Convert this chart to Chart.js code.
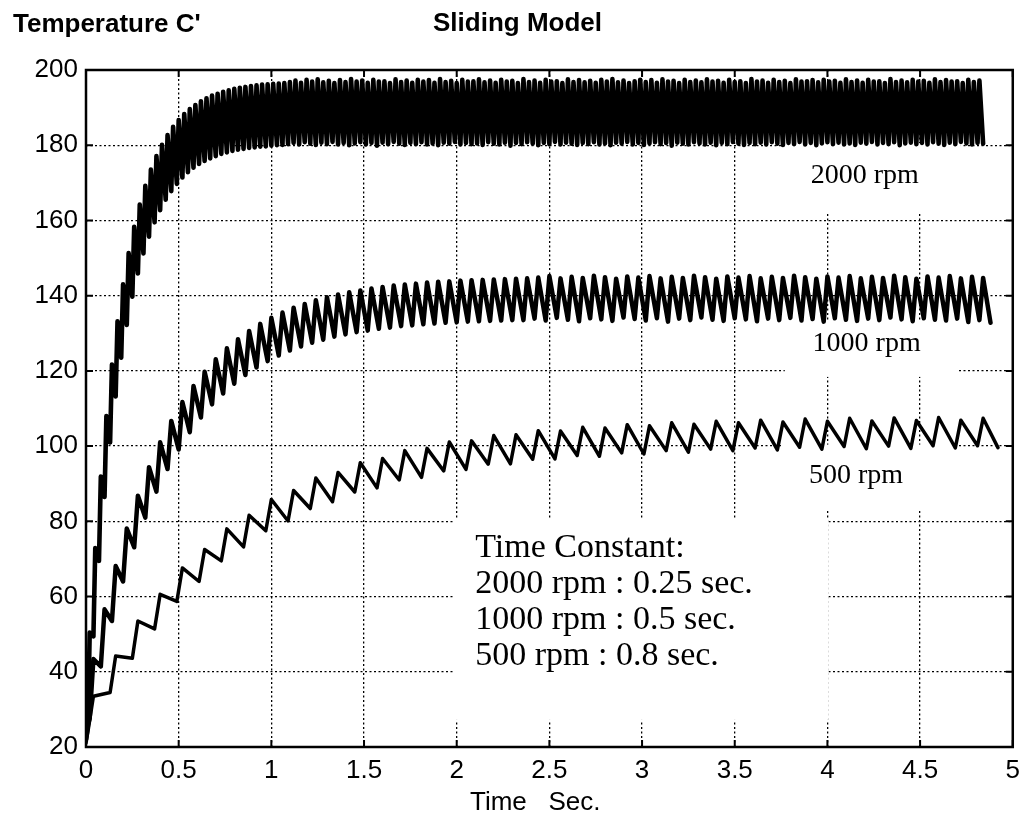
<!DOCTYPE html>
<html>
<head>
<meta charset="utf-8">
<script src="https://cdn.jsdelivr.net/npm/chart.js@4/dist/chart.umd.min.js"></script>
<style>
  body { margin: 0; background: #fff; }
</style>
</head>
<body>
<canvas id="myChart" width="1028" height="823"></canvas>
<script>
// tick values
const xTicks = [0, 0.5, 1, 1.5, 2, 2.5, 3, 3.5, 4, 4.5, 5];
const yTicks = [20, 40, 60, 80, 100, 120, 140, 160, 180, 200];

// 2000 rpm: time (s) and temperature, read tooth by tooth (trough, peak)
const t2000 = [0,
  .01,.02,.04,.05,.07,.08,.10,.11,.13,.14,.16,.17,.19,.20,.22,.23,.25,.26,.28,.29,
  .31,.32,.34,.35,.37,.38,.40,.41,.43,.44,.46,.47,.49,.50,.52,.53,.55,.56,.58,.59,
  .61,.62,.64,.65,.67,.68,.70,.71,.73,.74,.76,.77,.79,.80,.82,.83,.85,.86,.88,.89,
  .91,.92,.94,.95,.97,.98,1.00,1.01,1.03,1.04,1.06,1.07,1.09,1.10,1.12,1.13,1.15,1.16,1.18,1.19,
  1.21,1.22,1.24,1.25,1.27,1.28,1.30,1.31,1.33,1.34,1.36,1.37,1.39,1.40,1.42,1.43,1.45,1.46,1.48,1.49,
  1.51,1.52,1.54,1.55,1.57,1.58,1.60,1.61,1.63,1.64,1.66,1.67,1.69,1.70,1.72,1.73,1.75,1.76,1.78,1.79,
  1.81,1.82,1.84,1.85,1.87,1.88,1.90,1.91,1.93,1.94,1.96,1.97,1.99,2.00,2.02,2.03,2.05,2.06,2.08,2.09,
  2.11,2.12,2.14,2.15,2.17,2.18,2.20,2.21,2.23,2.24,2.26,2.27,2.29,2.30,2.32,2.33,2.35,2.36,2.38,2.39,
  2.41,2.42,2.44,2.45,2.47,2.48,2.50,2.51,2.53,2.54,2.56,2.57,2.59,2.60,2.62,2.63,2.65,2.66,2.68,2.69,
  2.71,2.72,2.74,2.75,2.77,2.78,2.80,2.81,2.83,2.84,2.86,2.87,2.89,2.90,2.92,2.93,2.95,2.96,2.98,2.99,
  3.01,3.02,3.04,3.05,3.07,3.08,3.10,3.11,3.13,3.14,3.16,3.17,3.19,3.20,3.22,3.23,3.25,3.26,3.28,3.29,
  3.31,3.32,3.34,3.35,3.37,3.38,3.40,3.41,3.43,3.44,3.46,3.47,3.49,3.50,3.52,3.53,3.55,3.56,3.58,3.59,
  3.61,3.62,3.64,3.65,3.67,3.68,3.70,3.71,3.73,3.74,3.76,3.77,3.79,3.80,3.82,3.83,3.85,3.86,3.88,3.89,
  3.91,3.92,3.94,3.95,3.97,3.98,4.00,4.01,4.03,4.04,4.06,4.07,4.09,4.10,4.12,4.13,4.15,4.16,4.18,4.19,
  4.21,4.22,4.24,4.25,4.27,4.28,4.30,4.31,4.33,4.34,4.36,4.37,4.39,4.40,4.42,4.43,4.45,4.46,4.48,4.49,
  4.51,4.52,4.54,4.55,4.57,4.58,4.60,4.61,4.63,4.64,4.66,4.67,4.69,4.70,4.72,4.73,4.75,4.76,4.78,4.79,
  4.81,4.82,4.84];
const v2000 = [22,
  25.6,50.4,49.4,72.9,69.5,91.9,86.5,108.0,101.0,121.7,113.2,133.2,123.5,143.0,132.2,151.3,139.7,158.3,145.9,164.2,
  151.2,169.2,155.7,173.5,159.5,177.1,162.7,180.1,165.5,182.7,167.8,184.9,169.7,186.7,171.4,188.3,172.8,189.6,174.0,190.7,
  175.0,191.7,175.8,192.5,176.5,193.2,177.1,193.7,177.7,194.2,178.1,194.6,178.5,195.0,178.8,195.3,179.0,195.5,179.3,195.7,
  179.4,195.9,179.6,196.1,179.7,196.2,179.9,196.3,180.0,196.4,180.1,196.5,180.3,196.8,180.6,197.2,180.2,196.6,180.8,197.4,
  180.4,196.9,180.1,197.5,180.7,196.7,180.3,197.1,180.9,196.5,180.2,197.3,180.6,196.8,180.0,197.6,180.5,196.9,180.8,197.2,
  180.2,196.6,180.6,197.4,179.9,196.9,180.7,197.0,180.3,196.5,180.9,197.5,180.4,196.8,180.1,197.2,180.6,196.6,180.3,197.4,
  180.8,196.9,180.2,197.3,180.5,196.6,180.0,197.6,180.7,196.8,180.4,197.1,180.9,196.5,180.2,197.4,180.6,196.9,180.3,197.0,
  180.5,197.5,180.1,196.7,180.8,197.2,180.4,196.6,180.2,197.4,180.7,196.9,179.9,197.1,180.6,196.5,180.3,197.6,180.8,196.8,
  180.4,197.2,180.0,196.6,180.6,197.4,180.3,196.9,180.9,197.0,180.2,196.5,180.7,197.5,180.4,196.8,180.1,197.3,180.6,196.7,
  180.3,197.1,180.8,196.6,180.2,197.4,180.5,196.9,180.0,197.6,180.7,196.7,180.4,197.2,180.9,196.5,180.2,197.0,180.6,197.4,
  180.1,196.8,180.5,197.3,180.8,196.6,180.3,197.5,180.6,196.9,179.9,197.1,180.7,196.5,180.4,197.4,180.2,196.8,180.8,197.2,
  180.5,196.7,180.2,197.5,180.7,196.9,180.0,197.1,180.6,196.6,180.3,197.4,180.9,196.8,180.4,197.0,180.1,196.5,180.6,197.6,
  180.3,196.9,180.7,197.2,180.2,196.6,180.8,197.4,180.4,196.8,180.1,197.1,180.6,196.5,180.3,197.5,180.9,196.9,180.2,197.0,
  180.6,197.3,180.0,196.7,180.5,197.4,180.8,196.9,180.3,197.1,180.7,196.6,180.2,197.5,180.5,196.8,180.1,197.2,180.7,196.6,
  180.4,197.4,180.9,196.9,180.2,197.0,180.6,196.5,180.3,197.6,180.8,196.8,180.0,197.2,180.5,196.7,180.7,197.4,180.3,196.9,
  180.6,197.1,180.2,196.6,180.8,197.5,180.4,196.8,180.1,197.3,180.7,196.9,180.3,197.0,180.9,196.5,180.5,197.4,180.2,196.8,
  180.6,197.2,180.4];

// 1000 rpm
const t1000 = [0,
  .02,.04,.08,.10,.14,.16,.20,.22,.26,.28,.32,.34,.38,.40,.44,.46,.50,.52,.56,.58,
  .62,.64,.68,.70,.74,.76,.80,.82,.86,.88,.92,.94,.98,1.00,1.04,1.06,1.10,1.12,1.16,1.18,
  1.22,1.24,1.28,1.30,1.34,1.36,1.40,1.42,1.46,1.48,1.52,1.54,1.58,1.60,1.64,1.66,1.70,1.72,1.76,1.78,
  1.82,1.84,1.88,1.90,1.94,1.96,2.00,2.02,2.06,2.08,2.12,2.14,2.18,2.20,2.24,2.26,2.30,2.32,2.36,2.38,
  2.42,2.44,2.48,2.50,2.54,2.56,2.60,2.62,2.66,2.68,2.72,2.74,2.78,2.80,2.84,2.86,2.90,2.92,2.96,2.98,
  3.02,3.04,3.08,3.10,3.14,3.16,3.20,3.22,3.26,3.28,3.32,3.34,3.38,3.40,3.44,3.46,3.50,3.52,3.56,3.58,
  3.62,3.64,3.68,3.70,3.74,3.76,3.80,3.82,3.86,3.88,3.92,3.94,3.98,4.00,4.04,4.06,4.10,4.12,4.16,4.18,
  4.22,4.24,4.28,4.30,4.34,4.36,4.40,4.42,4.46,4.48,4.52,4.54,4.58,4.60,4.64,4.66,4.70,4.72,4.76,4.78,
  4.82,4.84,4.88];
const v1000 = [24,
  27.6,43.4,41.4,56.6,53.5,68.1,64.0,78.1,73.1,86.8,81.0,94.4,87.9,101.0,93.9,106.7,99.1,111.7,103.7,116.0,
  107.6,119.8,111.1,123.1,114.0,126.0,116.6,128.4,118.9,130.6,120.9,132.5,122.6,134.1,124.1,135.5,125.4,136.8,126.5,137.8,
  127.5,138.8,128.3,139.6,129.1,140.3,129.7,140.9,130.3,141.4,130.7,141.9,131.2,142.3,131.5,142.7,131.9,143.0,132.1,143.2,
  132.4,143.5,132.6,143.7,132.8,143.8,132.9,144.0,133.1,144.1,133.2,144.2,133.3,144.3,133.4,144.4,133.5,144.5,133.5,144.6,
  133.9,144.8,133.4,145.2,134.1,144.6,133.6,145.0,133.2,144.7,134.0,145.3,133.7,144.9,133.3,144.5,134.2,145.1,133.8,144.8,
  133.4,145.2,134.0,144.6,133.1,145.0,133.9,144.7,133.5,145.3,134.2,144.9,133.6,144.5,133.3,145.1,134.0,144.8,133.7,145.2,
  133.2,144.6,133.9,145.0,133.5,144.7,134.1,145.3,133.4,144.9,133.8,144.5,133.1,145.1,134.0,144.8,133.6,145.2,133.3,144.6,
  133.9,145.0,133.5,144.7,134.2,145.3,133.7,144.9,133.2,144.5,134.0,145.1,133.6,144.8,133.4,145.2,133.9,144.6,133.0,145.0,
  133.5,144.7,132.8];

// 500 rpm
const t500 = [0,
  .01,.04,.13,.16,.25,.28,.37,.40,.49,.52,
  .61,.64,.73,.76,.85,.88,.97,1.00,1.09,1.12,
  1.21,1.24,1.33,1.36,1.45,1.48,1.57,1.60,1.69,1.72,
  1.81,1.84,1.93,1.96,2.05,2.08,2.17,2.20,2.29,2.32,
  2.41,2.44,2.53,2.56,2.65,2.68,2.77,2.80,2.89,2.92,
  3.01,3.04,3.13,3.16,3.25,3.28,3.37,3.40,3.49,3.52,
  3.61,3.64,3.73,3.76,3.85,3.88,3.97,4.00,4.09,4.12,
  4.21,4.24,4.33,4.36,4.45,4.48,4.57,4.60,4.69,4.72,
  4.81,4.84,4.92];
const v500 = [21,
  24.0,33.5,34.5,44.2,43.6,53.5,51.4,60.6,58.7,67.6,
  64.0,72.5,69.5,78.0,73.2,81.6,77.5,85.8,80.1,88.2,
  83.4,91.5,85.2,93.0,87.8,95.6,88.9,96.7,91.0,98.8,
  91.7,99.4,93.4,101.1,93.8,101.4,95.2,102.8,95.3,103.0,
  96.5,104.1,96.6,104.0,97.5,105.0,97.3,104.8,98.2,105.7,
  97.9,105.4,98.8,106.2,98.4,105.8,99.2,106.6,98.8,106.2,
  99.5,106.9,99.0,106.4,99.7,107.2,99.2,106.6,99.9,107.4,
  99.3,106.7,100.0,107.5,99.4,106.8,100.1,107.6,99.5,106.9,
  100.1,107.4,99.6];

// white boxes behind the text (data units) and the text itself
const masks = [
  {x0: 3.77, x1: 4.72, y0: 162, y1: 180.6},
  {x0: 3.77, x1: 4.70, y0: 118.4, y1: 133.5},
  {x0: 3.76, x1: 4.70, y0: 82.8, y1: 100.4},
  {x0: 1.98, x1: 4.006, y0: 27.2, y1: 80.4}
];
const notes = [
  {text: '2000 rpm', x: 3.91, y: 170.0, size: 28},
  {text: '1000 rpm', x: 3.92, y: 125.3, size: 28},
  {text: '500 rpm', x: 3.90, y: 90.2, size: 28},
  {text: 'Time Constant:', x: 2.10, y: 70.5, size: 34},
  {text: '2000 rpm : 0.25 sec.', x: 2.10, y: 60.9, size: 34},
  {text: '1000 rpm : 0.5 sec.', x: 2.10, y: 51.4, size: 34},
  {text: '500 rpm : 0.8 sec.', x: 2.10, y: 41.8, size: 34}
];

const sans = "'Liberation Sans', Arial, Helvetica, sans-serif";
const serif = "'Liberation Serif', 'Times New Roman', serif";

function toPoints(ts, vs) {
  return ts.map((t, i) => ({x: t, y: vs[i]}));
}

const lineStyle = {
  borderColor: '#000',
  borderWidth: 4,
  pointRadius: 0,
  tension: 0,
  fill: false,
  borderJoinStyle: 'round',
  borderCapStyle: 'round'
};

const paperPlugin = {
  id: 'paper',
  beforeDatasetsDraw(chart) {
    const {ctx, scales: {x, y}} = chart;
    ctx.save();
    ctx.fillStyle = '#fff';
    masks.forEach(m => {
      const l = x.getPixelForValue(m.x0), r = x.getPixelForValue(m.x1);
      const t = y.getPixelForValue(m.y1), b = y.getPixelForValue(m.y0);
      ctx.fillRect(l, t, r - l, b - t);
    });
    ctx.restore();
  },
  afterDraw(chart) {
    const {ctx, chartArea: a, scales: {x, y}} = chart;
    ctx.save();
    ctx.strokeStyle = '#000';

    // inward ticks
    ctx.lineWidth = 2;
    ctx.beginPath();
    xTicks.forEach(v => {
      const px = x.getPixelForValue(v);
      ctx.moveTo(px, a.bottom); ctx.lineTo(px, a.bottom - 7);
      ctx.moveTo(px, a.top); ctx.lineTo(px, a.top + 7);
    });
    yTicks.forEach(v => {
      const py = y.getPixelForValue(v);
      ctx.moveTo(a.left, py); ctx.lineTo(a.left + 7, py);
      ctx.moveTo(a.right, py); ctx.lineTo(a.right - 7, py);
    });
    ctx.stroke();

    // box
    ctx.lineWidth = 2.5;
    ctx.strokeRect(a.left, a.top, a.right - a.left, a.bottom - a.top);

    // notes inside the plot
    ctx.fillStyle = '#000';
    ctx.textBaseline = 'alphabetic';
    ctx.textAlign = 'left';
    notes.forEach(n => {
      ctx.font = n.size + 'px ' + serif;
      ctx.fillText(n.text, x.getPixelForValue(n.x), y.getPixelForValue(n.y));
    });

    // titles
    ctx.font = 'bold 26px ' + sans;
    ctx.fillText("Temperature C'", 13, 32);
    ctx.fillText('Sliding Model', 433, 31);
    ctx.font = '26px ' + sans;
    ctx.fillText('Time   Sec.', 470, 810);
    ctx.restore();
  }
};

const tickFont = {family: sans, size: 26};

const config = {
  type: 'line',
  data: {
    datasets: [
      {label: '2000 rpm', data: toPoints(t2000, v2000), ...lineStyle, borderWidth: 4.6},
      {label: '1000 rpm', data: toPoints(t1000, v1000), ...lineStyle, borderWidth: 4.5},
      {label: '500 rpm', data: toPoints(t500, v500), ...lineStyle, borderWidth: 3.5}
    ]
  },
  options: {
    responsive: false,
    animation: false,
    layout: {padding: {left: 0, right: 12, top: 70, bottom: 0}},
    plugins: {legend: {display: false}, tooltip: {enabled: false}},
    scales: {
      x: {
        type: 'linear',
        min: 0,
        max: 5,
        afterBuildTicks: s => { s.ticks = xTicks.map(v => ({value: v})); },
        afterFit: s => { s.height = 76; },
        ticks: {color: '#000', font: tickFont, padding: 8, maxRotation: 0, autoSkip: false,
          callback: v => String(v)},
        grid: {color: '#000', lineWidth: 1.3, drawTicks: false},
        border: {display: false, dash: [2, 2.5]}
      },
      y: {
        type: 'linear',
        min: 20,
        max: 200,
        afterBuildTicks: s => { s.ticks = yTicks.map(v => ({value: v})); },
        afterFit: s => { s.width = 86; },
        ticks: {color: '#000', font: tickFont, padding: 8, autoSkip: false,
          callback: v => String(v)},
        grid: {color: '#000', lineWidth: 1.3, drawTicks: false},
        border: {display: false, dash: [2, 2.5]}
      }
    }
  },
  plugins: [paperPlugin]
};

new Chart(document.getElementById('myChart'), config);
</script>
</body>
</html>
